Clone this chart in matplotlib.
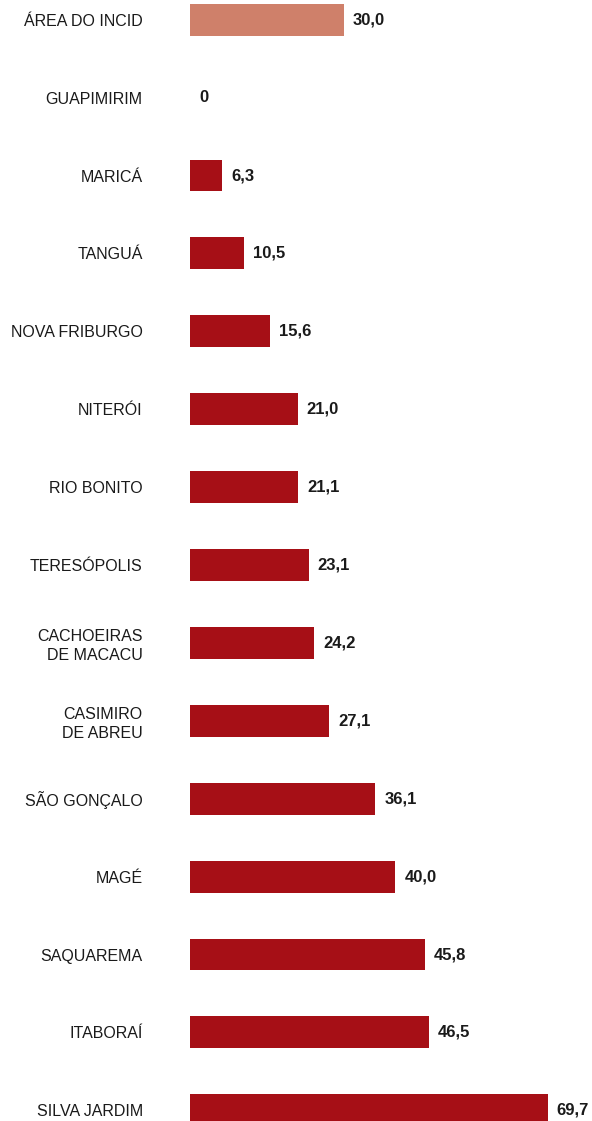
import matplotlib
matplotlib.use('Agg')
import matplotlib.pyplot as plt

# data
categories = ['ÁREA DO INCID', 'GUAPIMIRIM', 'MARICÁ', 'TANGUÁ', 'NOVA FRIBURGO',
              'NITERÓI', 'RIO BONITO', 'TERESÓPOLIS', 'CACHOEIRAS\nDE MACACU',
              'CASIMIRO\nDE ABREU', 'SÃO GONÇALO', 'MAGÉ', 'SAQUAREMA',
              'ITABORAÍ', 'SILVA JARDIM']
values = [30.0, 0, 6.3, 10.5, 15.6, 21.0, 21.1, 23.1, 24.2, 27.1, 36.1, 40.0, 45.8, 46.5, 69.7]
value_labels = ['30,0', '0', '6,3', '10,5', '15,6', '21,0', '21,1', '23,1', '24,2',
                '27,1', '36,1', '40,0', '45,8', '46,5', '69,7']

highlight_color = '#CF806A'
bar_color = '#A60F16'
text_color = '#1a1a1a'

plt.rcParams['font.family'] = ['Liberation Sans', 'DejaVu Sans']

fig = plt.figure(figsize=(5.92, 11.21), dpi=100)
ax = fig.add_axes([190 / 592, 0, (592 - 190) / 592, 1])

positions = list(range(len(categories)))
colors = [highlight_color] + [bar_color] * (len(categories) - 1)
ax.barh(positions, values, height=0.41, color=colors)

for pos, val, lab in zip(positions, values, value_labels):
    ax.annotate(lab, xy=(val, pos), xytext=(6.5, 0), textcoords='offset points',
                va='center', ha='left', fontsize=12, fontweight='bold', color=text_color)

ax.set_yticks(positions)
ax.set_yticklabels(categories, fontsize=11.5, color=text_color, linespacing=1.3)
ax.tick_params(axis='y', length=0, pad=34)
ax.set_xticks([])
ax.set_xlim(0, 78.3)
ax.set_ylim(14.137, -0.253)
for s in ax.spines.values():
    s.set_visible(False)

fig.savefig('out.png', dpi=100)
